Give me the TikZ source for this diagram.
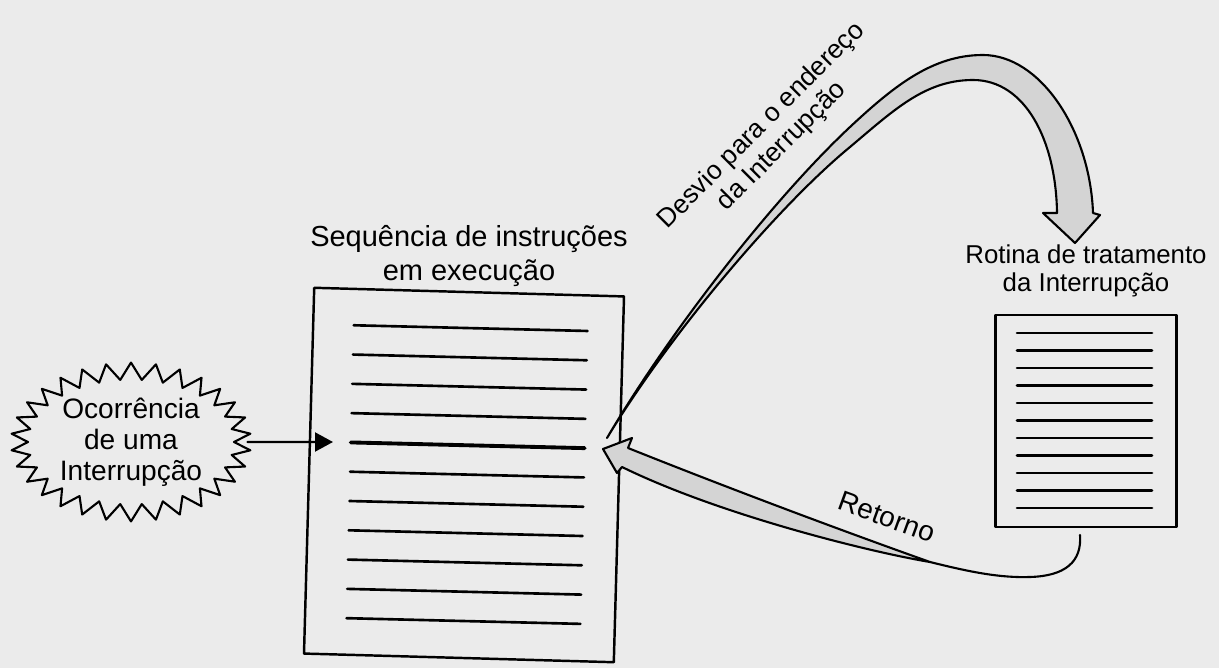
\documentclass[tikz,border=0pt]{standalone}
\usepackage{fontspec}
\setmainfont{Liberation Sans}
\usetikzlibrary{shapes.symbols,arrows.meta}

\begin{document}
\begin{tikzpicture}[x=0.02cm,y=-0.02cm,line width=1.2pt,line cap=round,line join=round,
        txt/.style={align=center,inner sep=0pt,font=\fontsize{15}{16.5}\selectfont},
        page/.style={draw,line width=1.4pt,inner sep=0pt},
        band/.style={draw,fill=black!17,line width=1.2pt}]

        % Size of the whole picture.
        \path[use as bounding box,fill=black!8] (0,0) rectangle (1219,668);

        % Positions of the arrow ends.
        \coordinate (a) at (607,438);
        \coordinate (b) at (1093,213);
        \coordinate (c) at (1057,213);
        \coordinate (d) at (622,467);
        \coordinate (e) at (628,448);
        \coordinate (f) at (930,562);
        \coordinate (g) at (1080,535);
        \coordinate (hit) at (333,442);

        % The two listings.
        \node[page,minimum width=6.2cm,minimum height=7.32cm,rotate=-1.6] (seq) at (464,475) {};
        \node[page,minimum width=3.62cm,minimum height=4.24cm] (rot) at (1086,421) {};
        \begin{scope}[rotate around={-1.4:(seq.center)}]
            \foreach \i in {0,...,10} {
                \ifnum\i=4 \def\lw{2.2pt}\else\def\lw{1.5pt}\fi
                \draw[line width=\lw] (350,328+29.3*\i) -- (584,328+29.3*\i);
            }
        \end{scope}
        \foreach \i in {0,...,10}
            \draw[line width=1.5pt] (1017,333+17.5*\i) -- (1152,333+17.5*\i);

        % Label the listings.
        \node[txt,font=\fontsize{16.5}{19}\selectfont] (seqlbl) at (469,256)
            {Sequência de instruções\\em execução};
        \node[txt,font=\fontsize{14.7}{16}\selectfont] (rotlbl) at (1086,271)
            {Rotina de tratamento\\da Interrupção};

        % The event.
        \node[draw,shape=starburst,starburst points=30,
            starburst point height=0.34cm,random starburst=0,
            minimum width=4.8cm,minimum height=3.15cm,
            txt,font=\fontsize{16}{17.6}\selectfont] (burst) at (131,442)
            {Ocorrência\\de uma\\Interrupção};
        \draw[shorten <=0.22cm,-{Triangle[length=0.36cm,width=0.38cm]}] (burst.east) -- (hit);

        % Branch to the routine.
        \path[band] (a) .. controls (667,336) and (770,202) .. (850,127)
            .. controls (895,85) and (933,55) .. (983,55)
            .. controls (1040,55) and (1090,130) .. (b)
            -- (1100,215) -- (1075,243) -- (1043,213) -- (c)
            .. controls (1056,140) and (1025,80) .. (973,80)
            .. controls (925,80) and (894,110) .. (850,147)
            .. controls (776,208) and (668,337) .. (a) -- cycle;
        \node[txt,rotate=45] (dvlbl) at (772,136) {Desvio para o endereço\\da Interrupção};

        % Return to the listing.
        \path[band] (d) -- (617,473) -- (603,449) -- (632,438) -- (e)
            .. controls (728,488) and (840,530) .. (f)
            .. controls (870,552) and (720,515) .. (d) -- cycle;
        \draw (f) .. controls (970,572) and (1000,578) .. (1030,577)
            .. controls (1065,576) and (1082,562) .. (g);
        \node[txt,font=\fontsize{16}{17.6}\selectfont,rotate=-20] (retlbl) at (887,517) {Retorno};
    \end{tikzpicture}
\end{document}
